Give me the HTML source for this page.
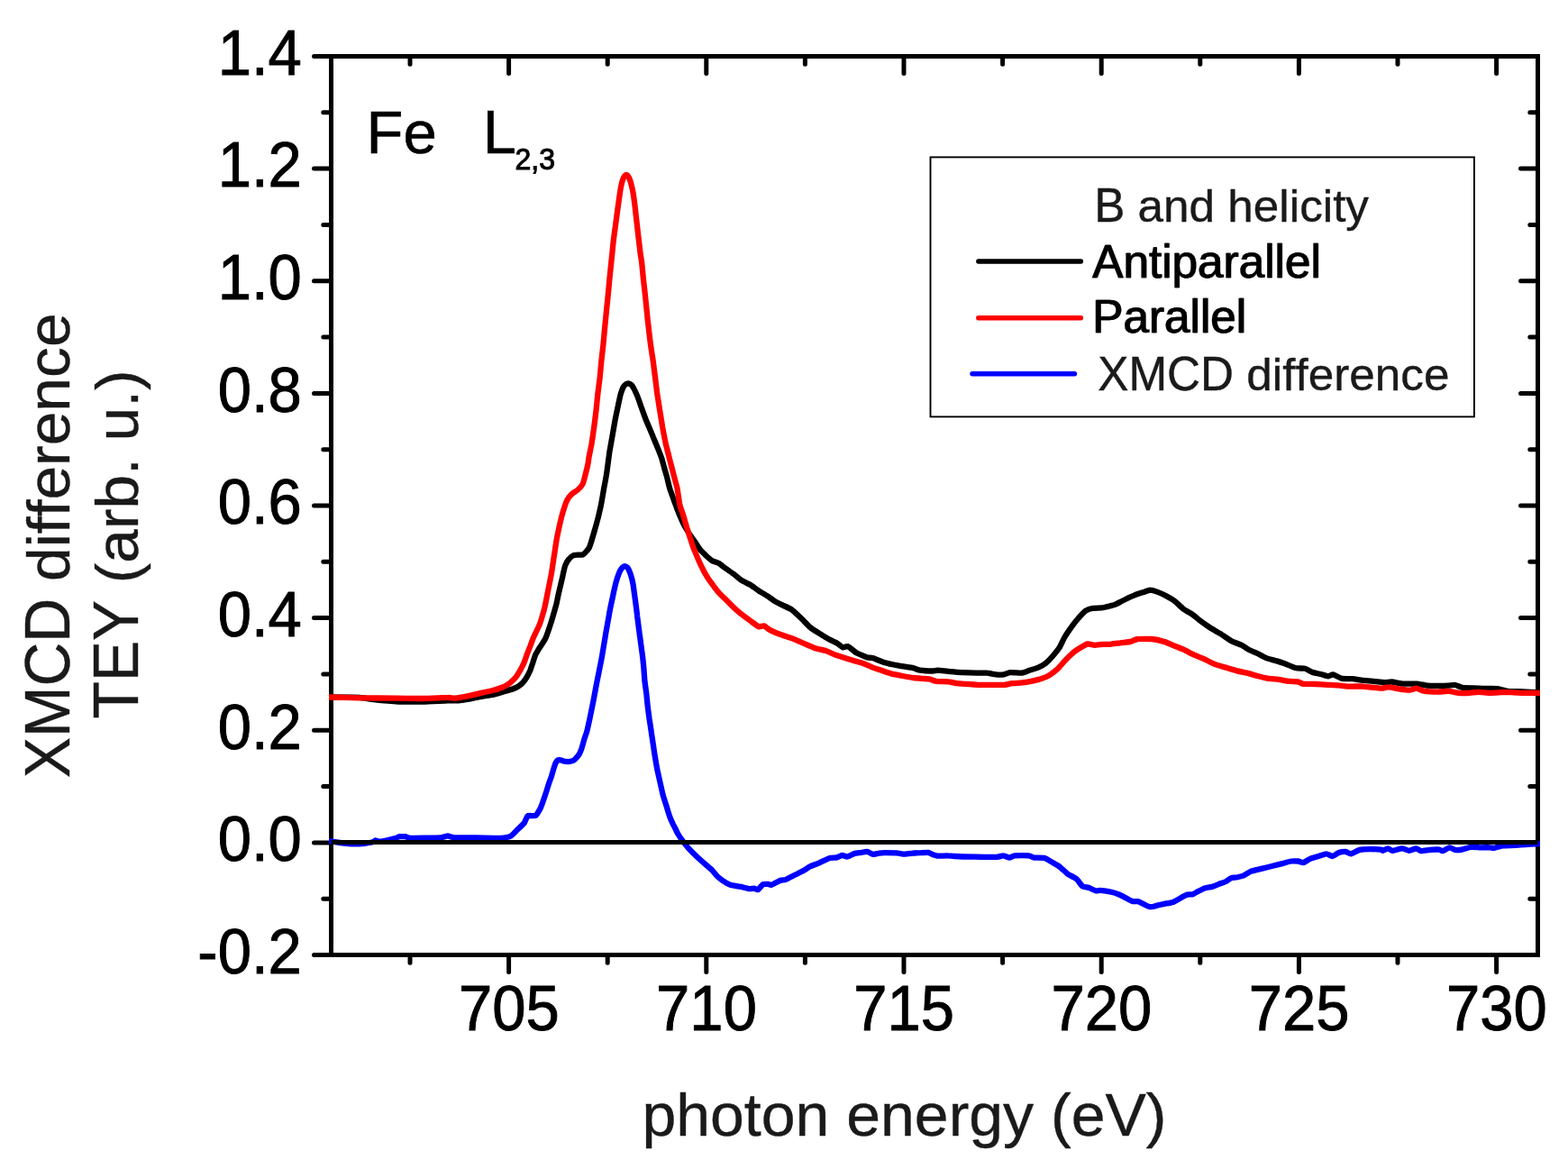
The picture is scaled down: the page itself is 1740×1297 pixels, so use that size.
<!DOCTYPE html>
<html lang="en"><head><meta charset="utf-8"><title>Fe L2,3 XMCD</title>
<style>
html,body{margin:0;padding:0;background:#fff;}
body{width:1740px;height:1297px;overflow:hidden;}
svg{display:block;}
text{font-family:"Liberation Sans",Arial,Helvetica,sans-serif;font-kerning:none;white-space:pre;}
.ax{stroke:#000;stroke-width:5;fill:none;stroke-linecap:round;}
.fr{stroke:#000;stroke-width:5;fill:none;stroke-linecap:square;}
.cv{fill:none;stroke-width:6.3;stroke-linejoin:round;stroke-linecap:butt;}
.tk{font-size:67px;fill:#000;stroke:#000;stroke-width:0.9px;}
.lb{font-size:68px;fill:#1a1a1a;stroke:#1a1a1a;stroke-width:0.4px;}
.an{font-size:67px;fill:#000;stroke:#000;stroke-width:0.6px;}
.sb{font-size:32px;fill:#000;stroke:#000;stroke-width:1px;}
.lg{font-size:51.25px;fill:#1a1a1a;stroke:#1a1a1a;stroke-width:0.4px;}
.lgb{font-size:51.25px;fill:#000;stroke:#000;stroke-width:0.3px;}
</style></head><body>
<svg width="1740" height="1297" viewBox="0 0 1740 1297" role="img" aria-label="Fe L2,3 XMCD spectra">
<defs>
<filter id="fb" x="-5%" y="-20%" width="110%" height="140%"><feOffset in="SourceGraphic" dx="1.2" dy="0" result="o"/><feMerge><feMergeNode in="SourceGraphic"/><feMergeNode in="o"/></feMerge></filter>
<clipPath id="cp"><rect x="365" y="60" width="1344" height="1002"/></clipPath>
</defs>
<rect width="1740" height="1297" fill="#fff"/>
<path class="fr" d="M367.5 62.5 H1706.5 V1059.5 H367.5 Z"/>
<g class="ax">
<path d="M455.0 1059.5 V1068.2 M455.0 62.5 V71.2"/>
<path d="M564.6 1059.5 V1078.5 M564.6 62.5 V81.5"/>
<path d="M674.2 1059.5 V1068.2 M674.2 62.5 V71.2"/>
<path d="M783.8 1059.5 V1078.5 M783.8 62.5 V81.5"/>
<path d="M893.4 1059.5 V1068.2 M893.4 62.5 V71.2"/>
<path d="M1003.0 1059.5 V1078.5 M1003.0 62.5 V81.5"/>
<path d="M1112.6 1059.5 V1068.2 M1112.6 62.5 V71.2"/>
<path d="M1222.2 1059.5 V1078.5 M1222.2 62.5 V81.5"/>
<path d="M1331.8 1059.5 V1068.2 M1331.8 62.5 V71.2"/>
<path d="M1441.4 1059.5 V1078.5 M1441.4 62.5 V81.5"/>
<path d="M1551.0 1059.5 V1068.2 M1551.0 62.5 V71.2"/>
<path d="M1660.6 1059.5 V1078.5 M1660.6 62.5 V81.5"/>
<path d="M367.5 1059.5 H348.5 M1706.5 1059.5 H1687.5"/>
<path d="M367.5 997.2 H358.8 M1706.5 997.2 H1697.8"/>
<path d="M367.5 934.9 H348.5 M1706.5 934.9 H1687.5"/>
<path d="M367.5 872.6 H358.8 M1706.5 872.6 H1697.8"/>
<path d="M367.5 810.2 H348.5 M1706.5 810.2 H1687.5"/>
<path d="M367.5 747.9 H358.8 M1706.5 747.9 H1697.8"/>
<path d="M367.5 685.6 H348.5 M1706.5 685.6 H1687.5"/>
<path d="M367.5 623.3 H358.8 M1706.5 623.3 H1697.8"/>
<path d="M367.5 561.0 H348.5 M1706.5 561.0 H1687.5"/>
<path d="M367.5 498.7 H358.8 M1706.5 498.7 H1697.8"/>
<path d="M367.5 436.4 H348.5 M1706.5 436.4 H1687.5"/>
<path d="M367.5 374.1 H358.8 M1706.5 374.1 H1697.8"/>
<path d="M367.5 311.7 H348.5 M1706.5 311.7 H1687.5"/>
<path d="M367.5 249.4 H358.8 M1706.5 249.4 H1697.8"/>
<path d="M367.5 187.1 H348.5 M1706.5 187.1 H1687.5"/>
<path d="M367.5 124.8 H358.8 M1706.5 124.8 H1697.8"/>
<path d="M367.5 62.5 H348.5 M1706.5 62.5 H1687.5"/>
</g>
<g clip-path="url(#cp)">
<path class="cv" stroke="#000" d="M363.9 773.5C366.8 773.5 394.8 773.6 399.1 773.9C403.3 774.1 411.1 775.8 414.7 776.2C418.3 776.6 437.5 778.4 442.1 778.6C446.6 778.7 464.9 778.6 469.4 778.6C474.0 778.5 493.5 777.5 496.8 777.4C500.0 777.3 506.6 777.5 508.5 777.4C510.4 777.2 517.9 776.1 520.0 775.7C522.1 775.3 531.6 773.3 533.9 772.9C536.2 772.5 545.4 771.1 547.8 770.6C550.1 770.1 559.6 767.3 561.6 766.6C563.7 766.0 571.2 763.7 572.8 762.9C574.3 762.2 579.1 758.4 580.1 757.4C581.2 756.4 584.1 752.1 584.8 750.9C585.5 749.7 587.9 744.8 588.5 743.5C589.0 742.2 590.8 736.5 591.3 735.2C591.7 733.8 593.5 728.1 594.0 726.8C594.6 725.6 596.8 721.9 597.7 720.4C598.7 718.8 604.3 710.4 605.3 708.3C606.4 706.2 609.3 697.4 610.0 695.3C610.7 693.2 613.1 685.4 613.7 683.3C614.3 681.2 616.8 672.5 617.4 670.3C617.9 668.2 619.6 659.8 620.1 657.4C620.7 655.0 623.3 644.1 623.9 641.6C624.4 639.2 626.5 629.5 627.1 627.8C627.7 626.0 630.5 621.3 631.3 620.4C632.1 619.4 635.5 616.3 636.8 615.9C638.1 615.5 645.6 615.9 647.0 615.3C648.4 614.6 652.7 609.5 653.5 608.3C654.2 607.2 655.3 603.5 655.9 601.8C656.4 600.1 659.4 590.2 660.0 587.9C660.7 585.6 663.2 576.3 663.8 574.0C664.3 571.7 666.5 562.8 667.0 560.1C667.5 557.5 669.7 544.7 670.2 541.6C670.8 538.6 673.0 526.5 673.5 523.1C674.0 519.8 675.8 505.1 676.3 501.8C676.9 498.5 679.0 486.4 679.6 483.3C680.1 480.2 682.3 467.6 682.8 464.8C683.4 461.9 685.6 451.4 686.1 449.1C686.6 446.7 688.4 438.6 688.8 437.0C689.3 435.4 691.1 430.5 691.6 429.6C692.1 428.7 693.9 426.7 694.4 426.4C694.9 426.0 696.7 425.4 697.2 425.4C697.7 425.5 699.9 426.3 700.4 426.8C700.9 427.3 703.1 430.4 703.6 431.5C704.2 432.5 706.7 438.2 707.4 439.8C708.0 441.3 710.4 448.0 711.0 450.0C711.7 451.9 714.9 460.9 715.7 462.9C716.4 464.9 719.5 472.2 720.3 474.0C721.1 475.9 724.2 483.3 724.9 485.1C725.7 487.0 728.8 494.3 729.5 496.2C730.3 498.2 733.5 506.3 734.2 508.3C734.8 510.2 736.9 518.3 737.4 520.0C737.9 521.7 739.4 526.7 739.9 528.5C740.4 530.3 742.3 539.0 743.1 541.6C743.9 544.3 748.8 557.5 749.7 560.0C750.6 562.5 753.1 569.2 753.9 571.1C754.7 573.0 758.5 581.4 759.4 583.1C760.4 584.9 764.0 590.8 765.0 592.4C766.0 593.9 770.5 600.2 771.5 601.6C772.5 603.1 776.0 608.7 777.0 610.0C778.0 611.2 782.4 615.4 783.5 616.5C784.6 617.5 788.8 621.3 790.0 622.0C791.1 622.7 796.1 624.1 797.4 624.8C798.6 625.5 803.4 629.3 804.8 630.3C806.2 631.3 812.5 635.7 814.0 636.8C815.6 638.0 821.7 643.2 823.3 644.2C824.8 645.2 831.0 647.9 832.5 648.8C834.1 649.8 840.2 654.3 841.8 655.3C843.3 656.3 849.5 659.9 851.0 660.9C852.6 661.9 858.8 666.4 860.3 667.4C861.8 668.3 868.0 671.2 869.5 672.0C871.1 672.7 877.2 675.4 878.8 676.6C880.5 677.8 887.7 684.7 889.4 686.3C891.1 687.9 897.0 694.3 898.7 695.7C900.4 697.1 908.0 702.0 909.8 703.1C911.5 704.2 917.9 708.1 919.5 709.0C921.2 709.9 928.0 713.1 929.3 713.9C930.6 714.6 934.2 718.1 935.2 718.3C936.1 718.6 939.7 716.7 941.0 717.2C942.3 717.7 949.0 723.6 950.8 724.6C952.6 725.6 961.1 729.0 962.5 729.5C964.0 729.9 966.8 729.6 968.4 730.1C970.0 730.6 979.6 734.6 982.1 735.3C984.5 736.1 995.1 738.2 997.7 738.7C1000.3 739.2 1011.4 740.8 1013.3 741.2C1015.3 741.6 1019.4 743.5 1021.1 743.7C1022.9 744.0 1033.2 744.5 1034.8 744.5C1036.5 744.5 1039.1 743.7 1040.7 743.7C1042.3 743.8 1052.1 744.9 1054.4 745.1C1056.6 745.3 1065.6 746.0 1068.0 746.1C1070.5 746.2 1081.4 746.6 1083.7 746.7C1086.0 746.7 1093.6 746.5 1095.4 746.7C1097.2 746.8 1103.6 748.3 1105.2 748.4C1106.7 748.6 1112.7 748.6 1114.0 748.4C1115.3 748.2 1119.1 746.3 1120.8 746.1C1122.5 745.9 1132.7 746.7 1134.5 746.5C1136.3 746.3 1140.8 744.2 1142.3 743.7C1143.8 743.3 1150.6 741.2 1152.1 740.6C1153.5 740.0 1158.6 737.3 1159.9 736.3C1161.2 735.3 1166.4 730.0 1167.7 728.5C1169.0 727.0 1174.4 720.5 1175.5 718.7C1176.7 716.9 1180.2 709.0 1181.4 707.0C1182.5 705.1 1187.9 697.1 1189.2 695.3C1190.5 693.5 1195.7 687.0 1197.0 685.5C1198.3 684.1 1203.5 678.6 1204.8 677.7C1206.1 676.8 1211.2 675.0 1212.6 674.8C1214.1 674.5 1220.8 674.6 1222.4 674.4C1224.0 674.2 1231.0 672.5 1232.2 672.2C1233.4 671.9 1235.7 671.5 1237.1 670.9C1238.5 670.3 1246.9 665.9 1248.9 665.0C1250.8 664.1 1258.9 660.4 1260.6 659.7C1262.2 659.1 1267.1 657.6 1268.4 657.2C1269.7 656.8 1274.9 654.7 1276.2 654.6C1277.5 654.6 1282.6 656.1 1284.0 656.6C1285.5 657.1 1292.2 660.2 1293.8 661.1C1295.4 662.0 1301.9 665.7 1303.6 667.0C1305.2 668.2 1311.7 674.5 1313.3 675.7C1315.0 677.0 1321.5 680.5 1323.1 681.6C1324.7 682.7 1331.2 688.2 1332.9 689.4C1334.5 690.6 1340.9 695.1 1342.6 696.3C1344.4 697.4 1352.4 701.9 1354.4 703.1C1356.3 704.3 1364.1 709.9 1366.1 710.9C1368.0 712.0 1376.2 715.0 1377.8 715.8C1379.4 716.6 1384.2 719.9 1385.6 720.7C1387.1 721.5 1393.8 724.2 1395.4 725.0C1397.0 725.8 1403.4 729.4 1405.2 730.1C1407.0 730.8 1415.1 732.8 1416.9 733.4C1418.7 733.9 1424.9 736.1 1426.7 736.7C1428.5 737.4 1436.6 740.8 1438.4 741.2C1440.2 741.6 1446.7 741.4 1448.2 741.8C1449.6 742.2 1454.5 745.2 1456.0 745.7C1457.4 746.2 1464.3 747.7 1465.7 748.0C1467.2 748.4 1472.4 750.4 1473.6 750.4C1474.7 750.4 1478.1 748.2 1479.4 748.4C1480.7 748.6 1487.4 752.5 1489.2 752.9C1491.0 753.3 1499.0 753.0 1500.9 753.1C1502.9 753.3 1510.7 754.7 1512.6 754.9C1514.6 755.1 1522.4 755.7 1524.4 755.9C1526.4 756.0 1535.1 757.0 1536.8 757.1C1538.5 757.1 1543.0 756.4 1544.6 756.5C1546.2 756.6 1554.0 758.5 1556.3 758.6C1558.6 758.8 1569.7 758.5 1572.0 758.6C1574.2 758.8 1581.7 760.4 1583.7 760.6C1585.6 760.8 1593.4 760.8 1595.4 760.8C1597.4 760.8 1605.5 760.7 1607.1 760.6C1608.8 760.5 1613.6 759.8 1614.9 760.0C1616.2 760.2 1621.1 762.7 1622.8 762.9C1624.4 763.2 1632.2 763.3 1634.5 763.3C1636.8 763.4 1647.8 763.9 1650.1 763.9C1652.4 764.0 1659.9 763.9 1661.8 764.1C1663.8 764.4 1671.6 766.6 1673.6 766.9C1675.5 767.1 1682.0 767.1 1685.3 767.2C1688.5 767.4 1710.4 768.3 1712.6 768.4"/>
<path class="cv" stroke="#f00" d="M363.9 773.5C366.8 773.5 392.9 774.2 399.1 774.3C405.3 774.4 432.3 774.6 438.2 774.6C444.0 774.7 464.5 775.1 469.4 775.0C474.3 775.0 493.9 773.9 496.8 773.9C499.7 773.8 502.7 774.8 504.6 774.6C506.5 774.5 517.6 772.7 520.0 772.2C522.4 771.7 531.6 769.5 533.9 768.9C536.2 768.4 545.7 766.3 547.8 765.7C549.8 765.1 557.3 762.7 558.9 762.0C560.4 761.3 565.1 758.3 566.3 757.4C567.4 756.4 571.8 752.1 572.8 750.9C573.7 749.7 576.6 744.8 577.4 743.5C578.1 742.2 580.9 736.6 581.5 735.2C582.2 733.7 584.2 727.5 584.8 725.9C585.4 724.4 587.8 718.3 588.5 716.7C589.1 715.0 591.5 708.4 592.4 706.4C593.3 704.4 597.9 695.2 598.9 692.5C599.9 689.8 603.6 677.1 604.4 674.0C605.2 670.9 607.5 658.6 608.1 655.5C608.7 652.4 611.3 640.1 611.8 637.0C612.4 633.9 614.2 621.0 614.6 618.5C615.0 616.0 616.0 609.3 616.3 607.5C616.6 605.7 617.6 599.0 617.9 597.2C618.3 595.4 619.8 588.0 620.2 586.1C620.7 584.1 622.5 576.0 623.0 574.0C623.5 572.1 625.7 564.6 626.3 562.9C626.8 561.2 629.3 554.9 630.0 553.7C630.7 552.4 633.7 549.0 634.6 548.1C635.5 547.3 640.1 544.4 641.1 543.5C642.1 542.6 645.9 538.5 646.6 537.0C647.4 535.6 649.3 527.8 649.8 525.9C650.3 524.0 652.3 515.5 652.6 513.9C652.9 512.3 653.3 508.2 653.7 506.4C654.0 504.6 656.0 495.2 656.5 492.5C656.9 489.8 658.8 477.1 659.2 474.0C659.6 470.9 661.2 458.6 661.5 455.5C661.9 452.4 663.0 440.1 663.4 437.0C663.7 433.9 665.4 421.5 665.7 418.5C666.0 415.5 667.0 404.0 667.3 401.0C667.6 398.0 669.1 385.6 669.4 382.5C669.7 379.4 670.8 367.1 671.1 364.0C671.4 360.9 672.6 348.6 672.9 345.5C673.2 342.4 674.5 330.1 674.8 327.0C675.1 323.9 676.2 311.6 676.5 308.5C676.8 305.4 678.2 292.2 678.4 290.0C678.6 287.8 679.1 284.0 679.3 281.8C679.5 279.6 680.8 266.4 681.2 263.3C681.6 260.2 683.3 247.9 683.7 244.8C684.1 241.7 685.8 229.0 686.2 226.3C686.6 223.6 687.9 214.3 688.2 212.4C688.5 210.5 689.7 204.3 690.0 203.1C690.3 201.9 691.5 198.3 691.8 197.6C692.1 196.9 693.1 195.2 693.4 194.9C693.7 194.6 694.7 194.0 695.0 194.0C695.3 194.0 696.3 194.6 696.6 194.9C696.9 195.2 697.9 196.9 698.2 197.6C698.5 198.3 699.8 201.9 700.1 203.1C700.4 204.3 701.9 210.5 702.3 212.4C702.6 214.3 704.0 223.6 704.3 226.3C704.6 229.0 706.0 241.7 706.4 244.8C706.8 247.9 708.1 260.2 708.5 263.3C708.9 266.4 710.4 279.6 710.7 281.8C711.0 284.0 711.7 287.8 712.0 290.0C712.3 292.2 713.5 305.4 713.8 308.5C714.1 311.6 715.6 323.9 715.9 327.0C716.2 330.1 717.5 342.4 717.8 345.5C718.1 348.6 719.4 360.9 719.8 364.0C720.1 367.1 721.6 379.4 722.0 382.5C722.4 385.6 724.4 398.0 724.8 401.0C725.2 404.0 726.6 415.5 727.0 418.5C727.4 421.5 728.9 433.9 729.3 437.0C729.8 440.1 731.7 452.4 732.2 455.5C732.7 458.6 734.7 470.9 735.2 474.0C735.8 477.1 738.0 489.2 738.8 492.5C739.6 495.8 743.5 510.9 744.2 513.9C745.0 516.8 747.2 525.4 747.8 527.8C748.4 530.1 750.9 539.0 751.5 541.6C752.0 544.3 753.8 557.5 754.3 560.0C754.9 562.5 757.4 569.1 758.0 571.1C758.7 573.1 761.1 581.9 761.8 584.1C762.4 586.2 765.3 595.0 765.9 597.0C766.6 599.0 768.9 606.3 769.6 608.1C770.3 610.0 773.5 617.4 774.2 619.2C775.0 621.0 778.0 627.7 778.9 629.4C779.7 631.1 783.4 638.0 784.4 639.6C785.4 641.2 789.8 647.4 790.9 648.8C792.0 650.3 796.2 655.9 797.4 657.2C798.5 658.5 803.5 663.3 804.8 664.6C806.0 665.8 810.9 670.6 812.2 671.9C813.5 673.2 818.9 678.3 820.5 679.7C822.1 681.1 830.2 687.0 832.0 688.3C833.8 689.6 840.6 694.7 841.9 695.2C843.2 695.7 846.7 693.9 847.8 694.3C848.8 694.6 852.9 698.3 854.6 699.1C856.3 700.0 865.6 703.8 867.7 704.5C869.8 705.3 877.3 707.6 879.4 708.4C881.5 709.3 891.0 713.4 893.1 714.3C895.2 715.2 902.9 718.5 904.8 719.2C906.8 719.8 914.6 721.5 916.6 722.1C918.5 722.8 926.4 726.3 928.3 727.0C930.2 727.7 937.4 729.9 939.1 730.5C940.8 731.0 947.2 732.9 948.9 733.4C950.5 733.9 957.0 735.7 958.6 736.3C960.2 736.9 966.8 740.0 968.4 740.6C970.0 741.2 976.5 743.2 978.2 743.7C979.8 744.3 986.0 746.5 987.9 747.1C989.9 747.6 999.5 749.6 1001.6 750.0C1003.7 750.4 1011.5 751.7 1013.3 752.0C1015.1 752.2 1021.6 752.8 1023.1 752.9C1024.6 753.0 1029.6 753.1 1030.9 753.3C1032.2 753.6 1036.9 755.6 1038.7 755.9C1040.5 756.1 1050.5 756.1 1052.4 756.3C1054.4 756.4 1060.2 758.0 1062.2 758.2C1064.1 758.5 1073.9 759.1 1075.9 759.2C1077.8 759.3 1084.0 759.7 1085.6 759.8C1087.3 759.8 1093.0 759.8 1095.4 759.8C1097.8 759.8 1112.7 759.9 1114.9 759.8C1117.2 759.6 1121.1 758.4 1122.8 758.2C1124.4 758.0 1132.7 757.6 1134.5 757.4C1136.3 757.2 1142.6 756.2 1144.3 755.9C1145.9 755.5 1152.4 754.0 1154.0 753.5C1155.7 753.0 1162.2 750.6 1163.8 749.6C1165.4 748.7 1172.1 743.5 1173.6 742.2C1175.0 740.8 1180.1 734.8 1181.4 733.4C1182.7 732.0 1187.9 726.7 1189.2 725.6C1190.5 724.4 1195.5 720.6 1197.0 719.7C1198.5 718.8 1205.3 714.8 1206.8 714.4C1208.2 714.1 1213.1 715.8 1214.6 715.8C1216.1 715.8 1222.9 714.9 1224.4 714.8C1225.8 714.7 1230.6 715.0 1232.2 714.8C1233.7 714.7 1241.1 713.5 1243.0 713.3C1244.9 713.0 1253.1 712.3 1254.7 711.9C1256.3 711.5 1260.6 709.2 1262.5 709.0C1264.5 708.7 1275.7 708.7 1278.2 709.0C1280.6 709.2 1289.7 711.2 1291.8 711.9C1294.0 712.5 1301.8 716.0 1303.6 716.8C1305.4 717.5 1311.5 719.9 1313.3 720.7C1315.1 721.5 1323.1 725.7 1325.1 726.6C1327.0 727.4 1335.0 730.6 1336.8 731.4C1338.6 732.3 1344.6 735.6 1346.6 736.3C1348.5 737.1 1358.1 740.0 1360.2 740.6C1362.3 741.3 1369.8 743.6 1372.0 744.1C1374.1 744.7 1383.7 746.6 1385.6 747.1C1387.6 747.6 1393.8 749.6 1395.4 750.0C1397.0 750.4 1403.2 752.0 1405.2 752.3C1407.1 752.7 1416.7 753.6 1418.9 753.9C1421.0 754.2 1428.8 755.7 1430.6 755.9C1432.4 756.1 1439.0 756.2 1440.3 756.4C1441.6 756.7 1444.6 758.6 1446.2 758.8C1447.8 759.0 1457.6 758.9 1459.9 759.0C1462.2 759.1 1471.4 759.7 1473.6 759.8C1475.7 759.9 1483.3 760.2 1485.3 760.4C1487.2 760.5 1495.1 761.6 1497.0 761.7C1499.0 761.8 1506.6 761.3 1508.7 761.3C1510.9 761.4 1520.4 762.5 1522.4 762.7C1524.4 762.9 1531.4 763.8 1532.9 763.7C1534.4 763.7 1539.1 762.3 1540.7 762.4C1542.3 762.4 1550.5 764.0 1552.4 764.3C1554.4 764.6 1562.5 765.7 1564.1 765.7C1565.8 765.6 1570.7 763.6 1572.0 763.7C1573.3 763.8 1577.8 766.3 1579.8 766.7C1581.7 767.0 1593.1 767.6 1595.4 767.6C1597.7 767.6 1605.2 766.8 1607.1 766.9C1609.1 766.9 1616.9 768.6 1618.9 768.8C1620.8 769.0 1628.8 768.9 1630.6 768.8C1632.4 768.7 1638.4 767.8 1640.3 767.8C1642.3 767.8 1651.9 768.8 1654.0 768.8C1656.1 768.8 1663.8 768.3 1665.7 768.2C1667.7 768.2 1675.2 768.2 1677.5 768.2C1679.8 768.3 1690.2 768.8 1693.1 768.8C1696.0 768.9 1711.0 768.8 1712.6 768.8"/>
<path class="cv" stroke="#00f" d="M363.9 932.9C365.4 933.1 378.6 935.2 381.5 935.5C384.4 935.8 396.5 936.5 399.1 936.4C401.7 936.4 411.3 934.8 412.8 934.5C414.2 934.2 415.9 932.6 416.7 932.5C417.5 932.5 420.7 933.9 422.5 933.7C424.3 933.5 436.5 930.6 438.2 930.2C439.9 929.7 442.1 928.4 443.0 928.2C444.0 928.1 448.8 928.1 449.9 928.2C450.9 928.4 452.5 929.7 455.7 929.8C459.0 929.9 485.5 929.6 489.0 929.4C492.4 929.2 495.5 927.4 496.8 927.4C498.1 927.4 502.0 929.2 504.6 929.4C507.2 929.6 523.8 929.4 528.0 929.4C532.3 929.4 552.1 930.0 555.4 929.8C558.7 929.6 565.5 928.3 567.1 927.4C568.8 926.6 573.7 921.0 574.9 919.8C576.2 918.6 580.9 914.2 581.8 913.0C582.7 911.8 584.6 905.9 585.7 905.2C586.7 904.5 593.3 905.6 594.5 904.8C595.7 904.0 599.4 897.5 600.3 895.4C601.3 893.3 605.0 882.0 605.7 880.0C606.4 878.0 608.0 872.6 608.5 871.0C609.0 869.5 611.2 863.3 611.8 861.8C612.3 860.2 614.1 853.9 614.5 852.5C614.9 851.2 616.5 846.8 616.8 846.1C617.2 845.3 618.2 843.5 618.7 843.3C619.2 843.1 621.8 843.2 622.4 843.3C623.0 843.4 625.4 844.5 626.1 844.7C626.8 844.8 629.9 845.2 630.7 845.1C631.5 845.1 634.6 844.5 635.3 844.2C636.0 843.9 638.4 842.0 639.0 841.4C639.7 840.8 642.2 837.7 642.8 836.8C643.3 835.9 645.0 831.7 645.5 830.3C646.0 828.9 647.9 821.6 648.4 820.0C648.9 818.4 650.9 812.9 651.4 811.0C651.9 809.1 654.0 799.5 654.5 797.2C655.0 794.9 656.8 785.6 657.3 783.3C657.8 781.0 659.6 771.7 660.0 769.4C660.4 767.1 662.2 757.8 662.6 755.5C663.1 753.2 665.0 744.0 665.4 741.6C665.9 739.3 667.7 730.1 668.1 727.8C668.5 725.4 670.1 716.0 670.4 713.9C670.8 711.7 672.0 704.3 672.4 701.8C672.9 699.2 675.1 686.4 675.7 683.3C676.2 680.2 678.7 667.9 679.4 664.8C680.0 661.7 682.9 648.7 683.5 646.3C684.2 643.8 686.7 636.5 687.2 635.2C687.8 633.8 690.0 630.4 690.5 629.8C691.0 629.2 692.8 628.2 693.3 628.2C693.8 628.2 696.0 629.1 696.5 629.8C697.0 630.5 699.2 635.5 699.7 637.0C700.2 638.5 702.1 645.8 702.5 648.1C702.9 650.4 704.4 661.8 704.8 664.8C705.2 667.7 706.8 680.2 707.1 683.3C707.5 686.4 709.1 699.2 709.5 701.8C709.8 704.3 710.9 711.7 711.1 713.9C711.4 716.0 712.7 725.4 713.0 727.8C713.3 730.1 714.2 739.3 714.4 741.6C714.6 744.0 715.2 753.2 715.4 755.5C715.7 757.8 717.0 767.1 717.3 769.4C717.6 771.7 718.4 781.0 718.7 783.3C718.9 785.6 720.2 794.6 720.5 797.2C720.9 799.7 722.7 811.3 723.0 813.9C723.4 816.4 724.7 825.4 725.1 827.8C725.4 830.1 726.8 839.3 727.2 841.6C727.6 844.0 729.2 853.2 729.7 855.5C730.2 857.8 732.3 867.2 732.8 869.4C733.3 871.6 735.0 879.3 735.5 881.4C736.1 883.5 738.9 892.3 739.6 894.4C740.2 896.5 742.7 904.7 743.3 906.4C743.9 908.1 746.5 913.6 747.0 914.8C747.5 915.9 749.3 919.1 749.8 920.0C750.2 921.0 752.0 924.8 752.8 926.0C753.5 927.2 757.6 933.1 758.6 934.4C759.6 935.7 763.3 940.3 764.5 941.7C765.7 943.0 771.8 949.1 773.3 950.5C774.7 951.8 780.7 957.1 782.1 958.3C783.5 959.5 788.7 964.0 789.9 965.1C791.0 966.3 794.8 971.0 795.7 972.0C796.7 972.9 800.4 976.0 801.6 976.8C802.8 977.7 808.8 981.2 810.4 981.7C812.0 982.3 819.4 983.3 821.1 983.7C822.9 984.0 829.6 985.9 830.9 986.0C832.2 986.2 835.9 985.5 836.8 985.6C837.6 985.7 840.3 987.6 841.1 987.2C841.9 986.8 845.6 981.9 846.6 981.3C847.5 980.8 851.6 980.9 852.4 980.9C853.2 981.0 855.2 982.1 856.3 981.7C857.5 981.4 864.8 977.3 866.1 976.8C867.4 976.4 870.5 976.4 872.0 975.9C873.4 975.3 882.0 970.8 883.7 970.0C885.3 969.2 890.2 966.8 891.5 966.1C892.8 965.4 897.8 961.9 899.3 961.2C900.8 960.5 907.3 958.1 909.1 957.3C910.9 956.5 919.2 952.5 920.8 952.0C922.4 951.5 927.5 951.7 928.6 951.4C929.8 951.2 933.5 949.0 934.5 948.9C935.5 948.8 939.2 950.6 940.3 950.5C941.5 950.3 946.9 947.3 948.2 946.9C949.5 946.6 954.8 945.9 956.0 945.8C957.2 945.6 961.8 944.8 962.8 945.0C963.9 945.2 967.6 947.8 968.7 947.9C969.7 948.0 974.5 946.7 975.5 946.6C976.6 946.4 979.6 946.2 981.4 946.2C983.2 946.2 995.2 946.4 997.0 946.6C998.8 946.7 1001.6 947.7 1002.9 947.7C1004.2 947.7 1011.0 946.7 1012.6 946.6C1014.3 946.4 1020.9 946.2 1022.4 946.2C1023.9 946.1 1029.1 945.6 1030.2 945.8C1031.4 946.0 1035.3 948.2 1036.1 948.5C1036.9 948.8 1038.7 949.6 1040.0 949.7C1041.3 949.7 1050.1 949.2 1051.7 949.3C1053.4 949.3 1056.9 949.9 1059.5 950.0C1062.1 950.2 1079.1 950.6 1083.0 950.6C1086.9 950.7 1103.9 950.9 1106.4 950.8C1109.0 950.7 1112.1 949.2 1113.3 949.3C1114.4 949.3 1119.1 951.6 1120.1 951.6C1121.2 951.6 1124.2 949.5 1126.0 949.3C1127.8 949.1 1139.8 949.1 1141.6 949.3C1143.4 949.5 1146.0 951.4 1147.5 951.6C1148.9 951.8 1157.4 951.5 1159.2 952.0C1161.0 952.5 1167.5 956.6 1169.0 957.5C1170.4 958.3 1175.5 961.3 1176.8 962.4C1178.1 963.4 1183.1 968.5 1184.6 969.6C1186.1 970.6 1193.0 973.9 1194.4 975.1C1195.8 976.2 1200.1 982.5 1201.2 983.3C1202.3 984.1 1206.8 984.4 1208.0 984.8C1209.3 985.3 1214.7 988.1 1215.9 988.3C1217.0 988.6 1220.3 987.6 1221.7 987.8C1223.2 987.9 1231.8 989.3 1233.4 989.7C1235.1 990.1 1240.0 991.7 1241.3 992.3C1242.6 992.8 1247.8 995.5 1249.1 996.2C1250.4 996.8 1255.8 999.7 1256.9 1000.1C1258.0 1000.4 1261.8 999.8 1262.8 1000.1C1263.7 1000.3 1267.6 1002.3 1268.6 1002.8C1269.6 1003.3 1273.5 1005.5 1274.5 1005.7C1275.5 1006.0 1279.4 1005.9 1280.3 1005.7C1281.3 1005.6 1285.1 1004.3 1286.2 1004.0C1287.3 1003.7 1292.7 1002.7 1294.0 1002.4C1295.3 1002.2 1300.5 1001.3 1301.8 1000.9C1303.1 1000.4 1308.4 997.2 1309.7 996.6C1311.0 995.9 1316.3 993.0 1317.5 992.6C1318.6 992.3 1322.4 992.5 1323.3 992.3C1324.3 992.0 1328.1 989.7 1329.2 989.1C1330.3 988.6 1335.7 985.9 1337.0 985.4C1338.3 985.0 1343.5 984.2 1344.8 983.9C1346.1 983.5 1351.3 981.4 1352.6 980.9C1353.9 980.4 1359.3 978.6 1360.5 978.0C1361.6 977.4 1365.3 974.5 1366.3 974.1C1367.3 973.7 1371.0 973.7 1372.2 973.5C1373.3 973.3 1378.7 972.1 1380.0 971.5C1381.3 971.0 1386.2 967.5 1387.8 966.9C1389.4 966.2 1397.6 964.4 1399.5 963.9C1401.5 963.4 1409.3 961.5 1411.3 961.0C1413.2 960.5 1421.2 958.5 1423.0 958.1C1424.8 957.6 1431.3 955.7 1432.8 955.5C1434.2 955.3 1439.4 955.4 1440.6 955.5C1441.7 955.6 1445.3 957.3 1446.4 957.1C1447.6 956.8 1452.8 953.2 1454.3 952.6C1455.7 952.0 1462.6 950.1 1464.0 949.7C1465.5 949.2 1470.6 947.3 1471.8 947.3C1473.1 947.3 1477.5 950.1 1478.7 950.0C1479.8 949.9 1484.3 946.6 1485.5 946.1C1486.7 945.7 1492.2 944.9 1493.3 945.0C1494.5 945.1 1497.9 947.5 1499.2 947.3C1500.5 947.1 1507.2 943.2 1509.0 942.8C1510.8 942.4 1518.7 942.2 1520.7 942.2C1522.6 942.2 1531.3 942.5 1532.4 942.6C1533.6 942.8 1533.7 943.9 1534.4 943.8C1535.0 943.7 1539.3 941.4 1540.2 941.4C1541.1 941.4 1543.8 943.8 1545.1 943.8C1546.4 943.8 1554.3 941.4 1555.9 941.4C1557.4 941.4 1562.4 943.8 1563.7 943.8C1565.0 943.8 1570.4 941.4 1571.5 941.4C1572.6 941.5 1576.1 944.1 1577.4 944.2C1578.7 944.3 1585.5 942.9 1587.1 942.8C1588.8 942.7 1595.8 942.5 1596.9 942.6C1598.0 942.7 1599.8 944.4 1600.8 944.2C1601.8 944.0 1607.5 940.4 1608.6 940.3C1609.8 940.2 1613.3 942.6 1614.5 942.8C1615.6 943.0 1620.8 942.9 1622.3 942.6C1623.8 942.4 1630.4 940.1 1632.1 939.9C1633.7 939.7 1640.0 940.2 1641.8 940.3C1643.6 940.3 1652.3 940.2 1653.6 940.3C1654.9 940.3 1656.3 941.0 1657.5 940.9C1658.6 940.7 1665.3 938.6 1667.2 938.3C1669.2 938.1 1678.8 938.0 1680.9 937.9C1683.0 937.8 1690.7 937.1 1692.6 937.0C1694.6 936.8 1702.7 936.4 1704.4 936.4C1706.0 936.3 1711.5 936.0 1712.2 936.0"/>
</g>
<path d="M367.5 934.5 H1706.5" stroke="#000" stroke-width="5" fill="none"/>
<text class="tk" transform="translate(334.80 1079.80) scale(1 1.045)" text-anchor="end">-0.2</text>
<text class="tk" transform="translate(334.80 955.17) scale(1 1.045)" text-anchor="end">0.0</text>
<text class="tk" transform="translate(334.80 830.55) scale(1 1.045)" text-anchor="end">0.2</text>
<text class="tk" transform="translate(334.80 705.92) scale(1 1.045)" text-anchor="end">0.4</text>
<text class="tk" transform="translate(334.80 581.30) scale(1 1.045)" text-anchor="end">0.6</text>
<text class="tk" transform="translate(334.80 456.68) scale(1 1.045)" text-anchor="end">0.8</text>
<text class="tk" transform="translate(334.80 332.05) scale(1 1.045)" text-anchor="end">1.0</text>
<text class="tk" transform="translate(334.80 207.43) scale(1 1.045)" text-anchor="end">1.2</text>
<text class="tk" transform="translate(334.80 82.80) scale(1 1.045)" text-anchor="end">1.4</text>
<text class="tk" transform="translate(564.80 1143.40) scale(1 1.045)" text-anchor="middle">705</text>
<text class="tk" transform="translate(784.00 1143.40) scale(1 1.045)" text-anchor="middle">710</text>
<text class="tk" transform="translate(1003.20 1143.40) scale(1 1.045)" text-anchor="middle">715</text>
<text class="tk" transform="translate(1222.40 1143.40) scale(1 1.045)" text-anchor="middle">720</text>
<text class="tk" transform="translate(1441.60 1143.40) scale(1 1.045)" text-anchor="middle">725</text>
<text class="tk" transform="translate(1660.80 1143.40) scale(1 1.045)" text-anchor="middle">730</text>
<text class="lb" transform="translate(712.40 1260.00) scale(1 0.975)" xml:space="preserve">photon energy (eV)</text>
<text class="lb" transform="translate(77.00 863.20) rotate(-90) scale(1 1.03)" style="font-size:67.75px" xml:space="preserve">XMCD</text>
<text class="lb" transform="translate(77.00 663.72) rotate(-90) scale(1 0.975)" style="font-size:67.75px" xml:space="preserve"> difference</text>
<text class="lb" transform="translate(152.60 797.40) rotate(-90) scale(1 1.03)" style="font-size:67.6px" xml:space="preserve">TEY</text>
<text class="lb" transform="translate(152.60 665.93) rotate(-90) scale(1 0.975)" style="font-size:67.6px" xml:space="preserve"> (arb. u.)</text>
<text class="an" transform="translate(406.50 170.20)">Fe</text>
<text class="an" transform="translate(535.80 170.20) scale(1 1.015)">L</text>
<text class="sb" transform="translate(571.50 188.30) scale(1 1.045)">2,3</text>
<rect x="1032.5" y="174.4" width="603.4" height="288" fill="#fff" stroke="#000" stroke-width="1.9"/>
<g class="cv" style="stroke-width:5.4;stroke-linecap:round">
<path stroke="#000" d="M1085.8 290 H1199.4"/>
<path stroke="#f00" d="M1085.8 352.8 H1199.4"/>
<path stroke="#00f" d="M1079 414.7 H1192.5"/>
</g>
<text class="lg" transform="translate(1214.20 245.70) scale(1 1.045)" xml:space="preserve">B</text>
<text class="lg" transform="translate(1248.38 245.70) scale(1 0.975)" xml:space="preserve"> and helicity</text>
<text class="lgb" transform="translate(1211.80 307.80)" filter="url(#fb)">Antiparallel</text>
<text class="lgb" transform="translate(1211.80 369.40)" filter="url(#fb)">Parallel</text>
<text class="lg" transform="translate(1218.20 432.90) scale(1 1.045)" xml:space="preserve">XMCD</text>
<text class="lg" transform="translate(1369.10 432.90) scale(1 0.975)" xml:space="preserve"> difference</text>
</svg>
</body></html>
